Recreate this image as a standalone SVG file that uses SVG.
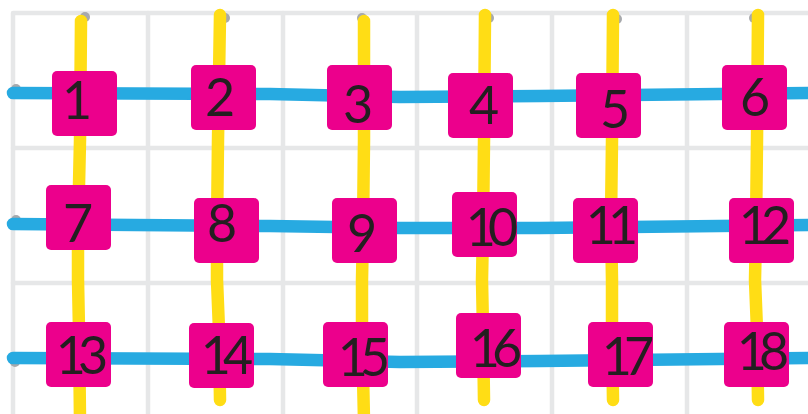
<svg xmlns="http://www.w3.org/2000/svg" width="808" height="414" viewBox="0 0 808 414">
<style>
.grid{stroke:#e6e7e8;stroke-width:4.5;fill:none;stroke-linecap:round;stroke-linejoin:round}
.dot{fill:#a7a9ac}
.yl{stroke:#ffdd15;stroke-width:12.5;fill:none;stroke-linecap:round;stroke-linejoin:round}
.bl{stroke:#27aae1;stroke-width:12.5;fill:none;stroke-linecap:round;stroke-linejoin:round}
.box{fill:#ec008c}
.t{font-family:Lato,"Open Sans","Liberation Sans",sans-serif;font-weight:400;font-size:52px;fill:#231f20;text-anchor:middle}
.t2{letter-spacing:-8px}
</style>
<rect width="808" height="414" fill="#ffffff"/>
<g id="grid">
<path class="grid" d="M13,414 V13 H812"/>
<path class="grid" d="M148,13 V418 M283,13 V418 M417,13 V418 M552,13 V418 M687,13 V418 M13,148 H812 M13,283 H812"/>
</g>
<g id="connectors">
<g id="dots">
<circle class="dot" cx="85" cy="17" r="5"/>
<circle class="dot" cx="225" cy="18" r="5"/>
<circle class="dot" cx="362" cy="18" r="5"/>
<circle class="dot" cx="489" cy="18" r="5"/>
<circle class="dot" cx="617" cy="19" r="5"/>
<circle class="dot" cx="754" cy="18" r="5"/>
<circle class="dot" cx="16" cy="89" r="5"/>
<circle class="dot" cx="16" cy="220" r="5"/>
<circle class="dot" cx="15" cy="362" r="5"/>
</g>
<polyline class="yl" points="81,21 80,140 78,230 78,280 79,330 80,420"/>
<polyline class="yl" points="220,15 218,140 217,230 217,280 219,330 220,400"/>
<polyline class="yl" points="364,21 364,140 363,230 362,280 362,330 364,420"/>
<polyline class="yl" points="485,15 484,140 483,230 482,280 483,330 484,400"/>
<polyline class="yl" points="613,15 612,140 611,220 612,280 612,330 613,400"/>
<polyline class="yl" points="758,15 757,140 756,230 755,280 757,330 758,400"/>
<polyline class="bl" points="13,93 270,94 400,97 540,96 812,93"/>
<polyline class="bl" points="13,224 270,226 400,228 540,228 812,225"/>
<polyline class="bl" points="13,358 270,359 400,362 540,361 812,358"/>
</g>
<g id="n1"><rect class="box" x="52" y="71" width="65" height="65" rx="5"/><text class="t" x="77" y="119">1</text></g>
<g id="n2"><rect class="box" x="191" y="65" width="65" height="65" rx="5"/><text class="t" x="220" y="116">2</text></g>
<g id="n3"><rect class="box" x="327" y="65" width="65" height="65" rx="5"/><text class="t" x="358" y="123">3</text></g>
<g id="n4"><rect class="box" x="448" y="73" width="65" height="65" rx="5"/><text class="t" x="484" y="124">4</text></g>
<g id="n5"><rect class="box" x="576" y="73" width="65" height="65" rx="5"/><text class="t" x="615" y="128">5</text></g>
<g id="n6"><rect class="box" x="722" y="65" width="65" height="65" rx="5"/><text class="t" x="755" y="116">6</text></g>
<g id="n7"><rect class="box" x="46" y="185" width="65" height="65" rx="5"/><text class="t" x="78" y="242">7</text></g>
<g id="n8"><rect class="box" x="194" y="198" width="65" height="65" rx="5"/><text class="t" x="222" y="242">8</text></g>
<g id="n9"><rect class="box" x="332" y="198" width="65" height="65" rx="5"/><text class="t" x="362" y="252">9</text></g>
<g id="n10"><rect class="box" x="452" y="192" width="65" height="65" rx="5"/><text class="t t2" x="488" y="246">10</text></g>
<g id="n11"><rect class="box" x="573" y="198" width="65" height="65" rx="5"/><text class="t t2" x="608" y="244">11</text></g>
<g id="n12"><rect class="box" x="729" y="198" width="65" height="65" rx="5"/><text class="t t2" x="761" y="244">12</text></g>
<g id="n13"><rect class="box" x="46" y="322" width="65" height="65" rx="5"/><text class="t t2" x="78" y="374">13</text></g>
<g id="n14"><rect class="box" x="189" y="323" width="65" height="65" rx="5"/><text class="t t2" x="223" y="374">14</text></g>
<g id="n15"><rect class="box" x="323" y="322" width="65" height="65" rx="5"/><text class="t t2" x="360" y="376">15</text></g>
<g id="n16"><rect class="box" x="456" y="313" width="65" height="65" rx="5"/><text class="t t2" x="492" y="367">16</text></g>
<g id="n17"><rect class="box" x="588" y="322" width="65" height="65" rx="5"/><text class="t t2" x="624" y="375">17</text></g>
<g id="n18"><rect class="box" x="724" y="322" width="65" height="65" rx="5"/><text class="t t2" x="759" y="370">18</text></g>
</svg>
